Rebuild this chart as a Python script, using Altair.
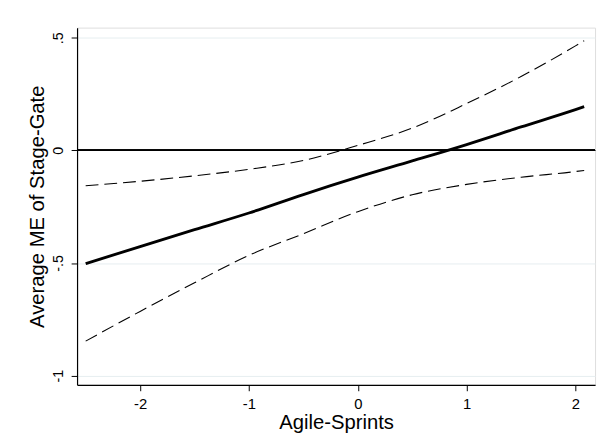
import altair as alt
import pandas as pd

# Data
agile = [-2.5, -2.0, -1.5, -1.0, -0.5, 0.0, 0.5, 1.0, 1.5, 2.0, 2.08]
me_mean = [-0.503, -0.427, -0.352, -0.278, -0.196, -0.119, -0.047, 0.026, 0.104, 0.181, 0.194]
me_upper = [-0.157, -0.137, -0.113, -0.084, -0.045, 0.022, 0.099, 0.208, 0.328, 0.464, 0.487]
me_lower = [-0.847, -0.715, -0.588, -0.466, -0.370, -0.272, -0.197, -0.151, -0.119, -0.094, -0.089]

x_ticks = [-2, -1, 0, 1, 2]
y_ticks = [-1, -0.5, 0, 0.5]

df = pd.DataFrame({"x": agile, "mean": me_mean, "upper": me_upper, "lower": me_lower})

FONT = "Liberation Sans"

xscale = alt.Scale(domain=[-2.579, 2.18], nice=False, zero=False)
yscale = alt.Scale(domain=[-1.041, 0.545], nice=False, zero=False)

xaxis = alt.Axis(
    values=x_ticks,
    title="Agile-Sprints",
    grid=False,
    labelExpr="toString(datum.value)",
    labelFont=FONT, labelFontSize=15, labelColor="black",
    labelBaseline="alphabetic", labelPadding=17.5,
    tickSize=6, tickColor="black", tickWidth=1,
    domainColor="black", domainWidth=1.2,
    titleFont=FONT, titleFontSize=20.5, titleFontWeight="normal", titleColor="black",
    titleBaseline="alphabetic", titleX=262.5, titleY=44.5,
)

yaxis = alt.Axis(
    values=y_ticks,
    title="Average ME of Stage-Gate",
    grid=True, gridColor="#E6EEF0", gridWidth=1,
    labelExpr="replace(toString(datum.value), '0.', '.')",
    labelAngle=270, labelAlign="center", labelBaseline="alphabetic",
    labelFont=FONT, labelFontSize=14.5, labelColor="black", labelPadding=9,
    tickSize=6, tickColor="black", tickWidth=1,
    domainColor="black", domainWidth=1.2,
    titleFont=FONT, titleFontSize=20.5, titleFontWeight="normal", titleColor="black",
    titleAngle=270, titleAlign="center", titleBaseline="alphabetic",
    titleX=-33.7, titleY=181,
)

base = alt.Chart(df)

zero = alt.Chart(df).mark_rule(color="black", strokeWidth=1.2).encode(y=alt.datum(0, scale=yscale))

upper = base.mark_line(color="black", strokeWidth=1.1, strokeDash=[13, 6], interpolate="monotone").encode(
    x=alt.X("x:Q", scale=xscale, axis=xaxis),
    y=alt.Y("upper:Q", scale=yscale, axis=yaxis),
)
lower = base.mark_line(color="black", strokeWidth=1.1, strokeDash=[13, 6], interpolate="monotone").encode(
    x=alt.X("x:Q", scale=xscale),
    y=alt.Y("lower:Q", scale=yscale),
)
mean = base.mark_line(color="black", strokeWidth=2.9, interpolate="monotone").encode(
    x=alt.X("x:Q", scale=xscale),
    y=alt.Y("mean:Q", scale=yscale),
)

chart = alt.layer(upper, lower, zero, mean).properties(
    width=525,
    height=362,
    padding={"left": 70, "top": 17, "right": 5, "bottom": 52},
    autosize=alt.AutoSizeParams(type="none"),
).configure_view(stroke=None).configure(background="white")

chart.save("out.html", embed_options={"renderer": "svg", "actions": False})
